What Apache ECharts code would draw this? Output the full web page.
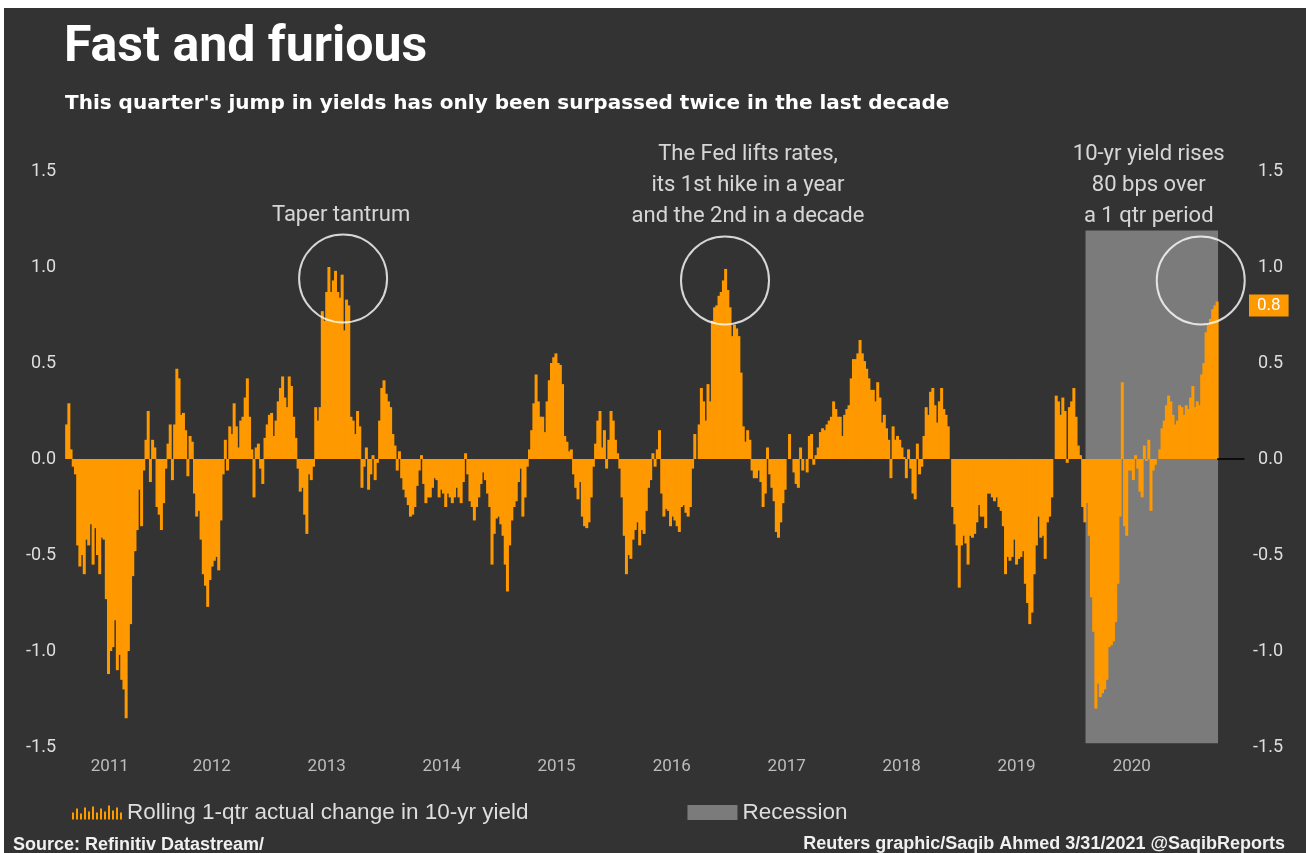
<!DOCTYPE html>
<html>
<head>
<meta charset="utf-8">
<script src="https://cdn.jsdelivr.net/npm/echarts@6/dist/echarts.min.js"></script>
<style>
html,body{margin:0;padding:0;background:#fff;}
#bg{position:absolute;left:4px;top:8px;width:1302px;height:845px;background:#333333;}
#chart{position:absolute;left:0;top:0;width:1306px;height:853px;}
</style>
</head>
<body>
<div id="bg"></div>
<div id="chart"></div>
<script>
// ---------- DATA (weekly rolling 1-qtr change in 10-yr yield) ----------
const seriesStart = '2011-03-28';   // first weekly observation
const stepDays = 7;
const valuesA = [ // Mar 2011 - Nov 2012
  0.18, 0.29, 0.05, -0.04, -0.08, -0.45, -0.56, -0.5, -0.6, -0.42,
  -0.45, -0.34, -0.55, -0.36, -0.5, -0.6, -0.41, -0.42, -0.73, -1.12,
  -1.0, -0.98, -0.84, -1.1, -1.02, -1.15, -1.2, -1.35, -1.0, -0.86,
  -0.61, -0.48, -0.37, -0.16, -0.35, -0.06, 0.1, 0.25, -0.12, 0.1,
  0.06, -0.25, -0.29, -0.37, -0.23, -0.05, 0.08, 0.18, -0.11, 0.18,
  0.47, 0.42, 0.23, 0.24, 0.15, -0.09, 0.12, 0.09, -0.18, -0.3,
  -0.27, -0.42, -0.6, -0.66, -0.77, -0.63, -0.56, -0.53, -0.51, -0.58,
  -0.32, -0.08, 0.1, -0.06, 0.17, 0.13, 0.29, 0.17, 0.06, 0.2,
  0.22, 0.32, 0.42, 0.22, 0.05, -0.2, 0.06
];
const valuesB = [ // Nov 2012 - Jul 2014
  0.08, -0.05, -0.13, 0.11, 0.18, 0.23, 0.24, 0.12, 0.2, 0.3,
  0.37, 0.43, 0.32, 0.27, 0.43, 0.38, 0.22, 0.11, -0.05, -0.17,
  -0.15, -0.29, -0.39, -0.08, -0.11, -0.04, 0.27, 0.2, 0.27, 0.77,
  0.72, 0.87, 1.0, 0.87, 0.93, 0.98, 0.87, 0.84, 0.96, 0.67,
  0.83, 0.80, 0.22, 0.2, 0.13, 0.25, 0.17, -0.15, -0.04, 0.06,
  -0.16, -0.08, 0.02, -0.11, -0.02, 0.2, 0.37, 0.41, 0.34, 0.3,
  0.27, 0.13, 0.07, -0.06, 0.04, -0.1, -0.16, -0.2, -0.24, -0.3,
  -0.29, -0.25, -0.14, -0.06, 0.02, -0.13, -0.23, -0.2, -0.2, -0.15,
  -0.1, -0.11, -0.2, -0.16, -0.18, -0.25, -0.18, -0.2
];
const valuesC = [ // Jul 2014 - Mar 2016
  -0.23, -0.2, -0.15, -0.2, -0.23, -0.12, 0.03, -0.08, -0.22, -0.25,
  -0.32, -0.25, -0.2, -0.13, -0.07, -0.11, -0.18, -0.25, -0.55, -0.39,
  -0.31, -0.3, -0.34, -0.4, -0.55, -0.69, -0.45, -0.32, -0.25, -0.22,
  -0.12, -0.05, -0.3, -0.2, -0.04, 0.05, 0.15, 0.29, 0.44, 0.3,
  0.22, 0.22, 0.14, 0.3, 0.41, 0.5, 0.53, 0.55, 0.5, 0.49,
  0.39, 0.12, 0.09, 0.04, 0.05, -0.08, -0.15, -0.21, -0.12, -0.3,
  -0.35, -0.36, -0.33, -0.2, -0.04, 0.08, 0.2, 0.25, 0.06, 0.15,
  -0.05, 0.1, 0.25, 0.2, 0.1, 0.03, -0.05, -0.2, -0.4, -0.6,
  -0.5, -0.52, -0.42, -0.37, -0.33, -0.45, -0.37, -0.39
];
const valuesD = [ // Mar 2016 - Nov 2017
  -0.27, -0.15, -0.11, 0.03, -0.04, 0.05, 0.15, -0.18, -0.3, -0.26,
  -0.27, -0.35, -0.3, -0.32, -0.35, -0.38, -0.25, -0.24, -0.28, -0.3,
  -0.25, -0.05, 0.13, 0.0, 0.18, 0.37, 0.3, 0.2, 0.39, 0.3,
  0.72, 0.79, 0.8, 0.85, 0.87, 0.93, 0.99, 0.88, 0.79, 0.64,
  0.7, 0.68, 0.64, 0.45, 0.17, 0.09, 0.15, 0.1, -0.06, -0.1,
  -0.1, -0.06, -0.12, -0.25, -0.18, 0.06, -0.08, -0.15, -0.22, -0.38,
  -0.41, -0.33, -0.23, -0.16, 0.0, 0.13, 0.0, -0.07, -0.13, -0.15,
  0.06, -0.06, 0.0, -0.07, 0.12, 0.13, -0.03, 0.02, 0.06, 0.14,
  0.16, 0.15, 0.18, 0.2, 0.22, 0.3, 0.26, 0.22
];
const valuesE = [ // Nov 2017 - Jul 2019
  0.22, 0.12, 0.23, 0.26, 0.28, 0.42, 0.52, 0.52, 0.55, 0.62,
  0.55, 0.51, 0.47, 0.42, 0.36, 0.36, 0.3, 0.4, 0.32, 0.19,
  0.23, 0.16, 0.1, -0.1, 0.17, 0.1, 0.12, 0.1, 0.06, 0.01,
  -0.1, 0.05, -0.05, -0.18, -0.21, 0.08, -0.08, -0.04, 0.12, 0.27,
  0.23, 0.35, 0.37, 0.28, 0.19, 0.3, 0.37, 0.26, 0.23, 0.17,
  0.0, -0.25, -0.34, -0.45, -0.67, -0.45, -0.4, -0.44, -0.55, -0.4,
  -0.41, -0.39, -0.33, -0.24, -0.3, -0.3, -0.36, -0.18, -0.18, -0.2,
  -0.22, -0.2, -0.25, -0.27, -0.35, -0.6, -0.51, -0.53, -0.51, -0.42,
  -0.55, -0.52, -0.51, -0.48, -0.65, -0.75, -0.86, -0.8
];
const valuesF = [ // Jul 2019 - Mar 2021
  -0.6, -0.45, -0.3, -0.41, -0.4, -0.52, -0.33, -0.3, -0.2, 0.0,
  0.33, 0.3, 0.23, 0.32, 0.25, -0.02, 0.27, 0.3, 0.37, 0.22,
  0.07, 0.02, -0.25, -0.33, -0.23, -0.4, -0.72, -0.9, -1.3, -1.17,
  -1.24, -1.22, -1.2, -1.15, -0.98, -0.97, -0.95, -0.85, -0.65, -0.3,
  0.4, -0.35, -0.4, -0.06, -0.06, -0.11, 0.02, -0.05, -0.17, -0.2,
  0.07, -0.01, 0.1, -0.27, -0.06, -0.03, 0.0, 0.05, 0.16, 0.2,
  0.28, 0.33, 0.3, 0.23, 0.18, 0.2, 0.28, 0.27, 0.23, 0.28,
  0.26, 0.32, 0.38, 0.27, 0.3, 0.28, 0.44, 0.5, 0.66, 0.7,
  0.73, 0.78, 0.8, 0.82
];
const latestValueLabel = 0.8;

const yearLabels = ['2011','2012','2013','2014','2015','2016','2017','2018','2019','2020'];
const yearLabelDates = ['2011-08-12','2012-07-01','2013-07-01','2014-07-01','2015-07-01',
                        '2016-07-01','2017-07-01','2018-07-01','2019-07-01','2020-07-01'];

const recessionRange = ['2020-02-05', '2021-04-01'];
const recessionSpan = [-1.48, 1.19];

const annotationTexts = [
  'Taper tantrum',
  'The Fed lifts rates,\nits 1st hike in a year\nand the 2nd in a decade',
  '10-yr yield rises\n80 bps over\na 1 qtr period'
];
const annotationDates = ['2013-08-22', '2016-12-17', '2021-02-05'];
const annotationLevels = [0.94, 0.93, 0.93];

// ---------- BUILD ----------
const d = s => Date.parse(s);
const DAY = 86400000;
const values = [].concat(valuesA, valuesB, valuesC, valuesD, valuesE, valuesF);
const t0 = d(seriesStart);
const barData = values.map((v, i) => [t0 + i * stepDays * DAY, v]);
const lastDate = barData[barData.length - 1][0];
const axisMin = d('2011-03-18');
const axisMax = d('2021-06-24');

const ORANGE = '#ff9900';
const TXT = '#dedede';
const GREY = '#7b7b7b';

const chart = echarts.init(document.getElementById('chart'), null, {renderer: 'canvas'});

const legendBarIcon = 'path://M0,8h2v7h-2zM4,4h2v11h-2zM8,9h2v6h-2zM12,3h2v12h-2zM16,7h2v8h-2zM20,2h2v13h-2zM24,8h2v7h-2zM28,4h2v11h-2zM32,7h2v8h-2zM36,1h2v14h-2zM40,6h2v9h-2zM44,3h2v12h-2zM48,8h2v7h-2z';

const option = {
  backgroundColor: 'transparent',
  animation: false,
  title: [
    {text: 'Fast and furious', left: 59, top: 18,
     textStyle: {color: '#ffffff', fontFamily: 'Roboto', fontWeight: 'bold', fontSize: 50}},
    {text: "This quarter's jump in yields has only been surpassed twice in the last decade", left: 60, top: 89,
     textStyle: {color: '#ffffff', fontFamily: 'DejaVu Sans', fontWeight: 'bold', fontSize: 20}},
    {text: 'Source: Refinitiv Datastream/', left: 8, top: 831,
     textStyle: {color: '#f0f0f0', fontFamily: 'Liberation Sans', fontWeight: 'bold', fontSize: 18}},
    {text: 'Reuters graphic/Saqib Ahmed 3/31/2021 @SaqibReports', right: 16, top: 830,
     textStyle: {color: '#f0f0f0', fontFamily: 'Liberation Sans', fontWeight: 'bold', fontSize: 18}}
  ],
  legend: {
    left: 67, top: 796, itemWidth: 50, itemHeight: 15, itemGap: 159, selectedMode: false,
    textStyle: {color: TXT, fontFamily: 'Liberation Sans', fontSize: 22.5},
    data: [
      {name: 'Rolling 1-qtr actual change in 10-yr yield', icon: legendBarIcon},
      {name: 'Recession', icon: 'rect'}
    ]
  },
  grid: {left: 62, right: 60, top: 171, height: 576, containLabel: false},
  xAxis: {
    type: 'time', min: axisMin, max: axisMax,
    axisLine: {show: false}, axisTick: {show: false}, axisLabel: {show: false}, splitLine: {show: false}
  },
  yAxis: [
    {type: 'value', min: -1.5, max: 1.5, interval: 0.5, position: 'left',
     axisLine: {show: false}, axisTick: {show: false}, splitLine: {show: false},
     axisLabel: {color: TXT, fontFamily: 'Roboto', fontSize: 18, margin: 6,
                 formatter: v => v.toFixed(1)}},
    {type: 'value', min: -1.5, max: 1.5, interval: 0.5, position: 'right',
     axisLine: {show: false}, axisTick: {show: false}, splitLine: {show: false},
     axisLabel: {color: TXT, fontFamily: 'Roboto', fontSize: 18, margin: 37, align: 'right',
                 formatter: v => v.toFixed(1)}}
  ],
  series: [
    {
      name: 'Recession', type: 'line', data: [], itemStyle: {color: GREY}, z: 1,
      markArea: {
        silent: true,
        itemStyle: {color: GREY},
        data: [[{xAxis: d(recessionRange[0]), yAxis: recessionSpan[0]},
                {xAxis: d(recessionRange[1]), yAxis: recessionSpan[1]}]]
      }
    },
    {
      name: 'Rolling 1-qtr actual change in 10-yr yield', type: 'bar', data: barData,
      barWidth: 3, itemStyle: {color: ORANGE}, z: 3, silent: true,
      markLine: {
        silent: true, symbol: 'none',
        data: [
          [{coord: [lastDate, 0], lineStyle: {color: '#000', width: 1.5, type: 'solid'}, label: {show: false}},
           {coord: [axisMax, 0]}],
          {yAxis: latestValueLabel, lineStyle: {color: 'rgba(0,0,0,0)', width: 0},
           label: {show: true, position: 'end', distance: 3, formatter: latestValueLabel.toFixed(1),
                   backgroundColor: ORANGE, color: '#fff', fontFamily: 'Roboto', fontSize: 17,
                   padding: [3, 8, 2, 8]}}
        ]
      }
    },
    {
      name: 'years', type: 'scatter', symbolSize: 0, silent: true, z: 4,
      data: yearLabelDates.map((s, i) => ({value: [d(s), -1.5], name: yearLabels[i]})),
      label: {show: true, position: 'bottom', distance: 11, formatter: p => p.name,
              color: TXT, fontFamily: 'Roboto', fontSize: 17}
    },
    {
      name: 'annotations', type: 'scatter', symbol: 'circle', symbolSize: 88, silent: true, z: 5,
      itemStyle: {color: 'rgba(0,0,0,0)', borderColor: '#ffffff', borderWidth: 2},
      data: annotationDates.map((s, i) => ({
        value: [d(s), annotationLevels[i]],
        label: {offset: [[-2, 0], [23, 0], [-52, 0]][i]}
      })),
      label: {show: true, position: 'top', distance: 3, color: '#ffffff', fontFamily: 'Roboto',
              fontSize: 22, lineHeight: 31, align: 'center',
              formatter: p => annotationTexts[p.dataIndex]}
    }
  ]
};
chart.setOption(option);
</script>
</body>
</html>
